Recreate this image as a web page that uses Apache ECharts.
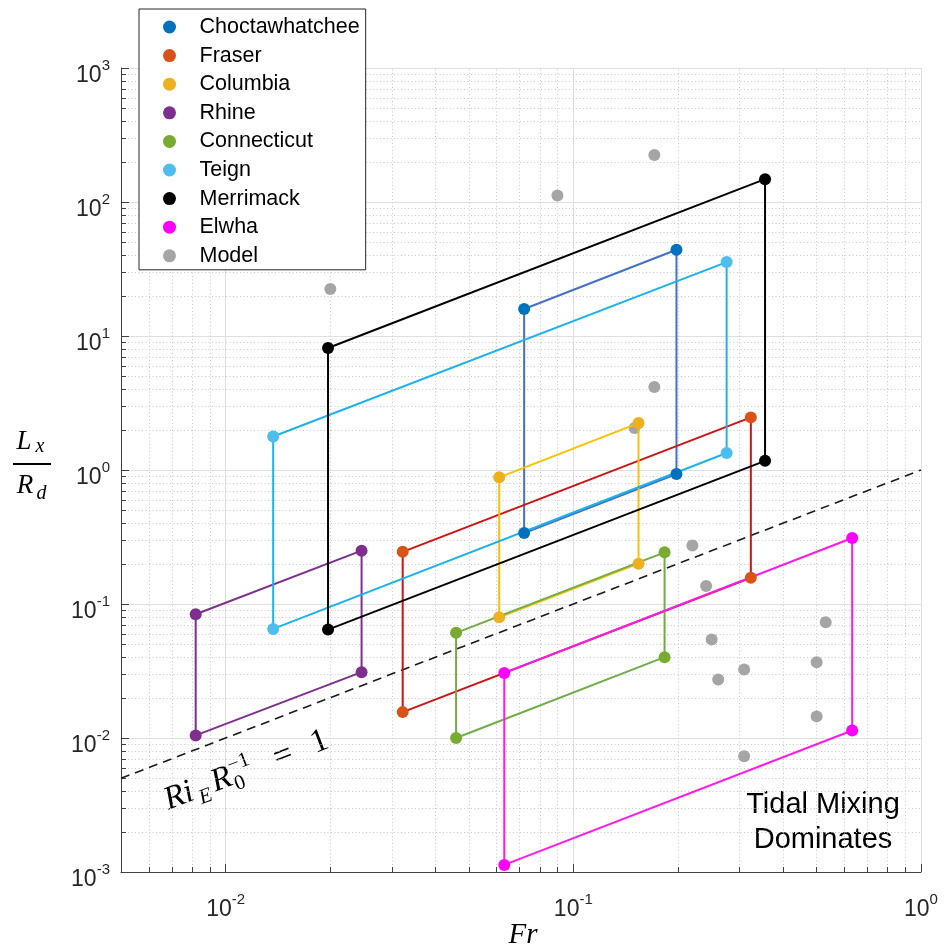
<!DOCTYPE html>
<html><head><meta charset="utf-8">
<script src="https://cdn.jsdelivr.net/npm/echarts@6/dist/echarts.min.js"></script>
<style>html,body{margin:0;padding:0;background:#fff}#c{width:946px;height:950px}</style>
</head><body><div id="c"></div>
<script>
// ---------------- data ----------------
const RIVERS = ['Choctawhatchee','Fraser','Columbia','Rhine','Connecticut','Teign','Merrimack','Elwha'];
const FR_LOW  = [0.0722, 0.0323, 0.0612, 0.0082, 0.0460, 0.0137, 0.0197, 0.0633];
const FR_HIGH = [0.198, 0.324, 0.154, 0.0246, 0.183, 0.276, 0.356, 0.634];
const LR_UPPER_AT_LOW  = [15.9, 0.245, 0.881, 0.0838, 0.0609, 1.78, 8.13, 0.0306];
const LR_UPPER_AT_HIGH = [44.0, 2.47, 2.24, 0.250, 0.243, 35.6, 148, 0.311];
const LR_LOWER_AT_HIGH = [0.933, 0.157, 0.200, 0.0310, 0.0401, 1.339, 1.17, 0.01137];
const LR_LOWER_AT_LOW  = [0.339, 0.0156, 0.0796, 0.01045, 0.0100, 0.0652, 0.0644, 0.00113];

const MODEL_NAME = 'Model';
const MODEL_FR = [0.171, 0.090, 0.0200, 0.171, 0.150, 0.220, 0.241, 0.532, 0.250, 0.501, 0.310, 0.261, 0.501, 0.310];
const MODEL_LR = [224, 112, 22.4, 4.16, 2.06, 0.273, 0.136, 0.0730, 0.0543, 0.0367, 0.0324, 0.0273, 0.0145, 0.00731];

const RI_LINE_FR = [0.005, 1];
const RI_LINE_LR = [0.005, 1];

const X_RANGE = [0.005, 1];
const Y_RANGE = [0.001, 1000];
const X_DECADES = [0.001, 0.01, 0.1];
const Y_DECADES = [0.001, 0.01, 0.1, 1, 10, 100];
const MINOR_MULT = [2, 3, 4, 5, 6, 7, 8, 9];

// ---------------- styles ----------------
const MARKER_COLORS = ['#0072BD','#D95319','#EDB120','#7E2F8E','#77AC30','#4DBEEE','#000000','#FF00FF'];
const LINE_COLORS   = ['#4470C8','#CC1414','#FFC000','#7E2F8E','#70AD47','#1CB2EC','#000000','#FF1AE6'];
const MODEL_COLOR = '#A5A5A5';
const AXIS_COLOR = '#404040';

function minorValues(decades, range) {
  const out = [];
  decades.forEach(d => MINOR_MULT.forEach(m => {
    const v = d * m;
    if (v > range[0] * 1.0001 && v < range[1] * 0.9999) out.push(v);
  }));
  return out;
}
const X_MINOR = minorValues(X_DECADES, X_RANGE);
const Y_MINOR = minorValues(Y_DECADES, Y_RANGE);

const chart = echarts.init(document.getElementById('c'), null, {renderer: 'canvas'});

function expLabel(v) {
  const e = Math.log10(v);
  const r = Math.round(e);
  if (Math.abs(e - r) > 1e-6) return '';
  return '{b|10}{s|' + r + '}';
}
const richX = {
  b: {fontFamily: 'Liberation Sans', fontSize: 23, lineHeight: 23, color: '#262626', verticalAlign: 'top', padding: [14, 0, 0, 0]},
  s: {fontFamily: 'Liberation Sans', fontSize: 15, lineHeight: 15, color: '#262626', verticalAlign: 'top', padding: [8, 0, 0, 0]}
};
const richY = {
  b: {fontFamily: 'Liberation Sans', fontSize: 23, lineHeight: 23, color: '#262626', verticalAlign: 'top', padding: [8, 0, 0, 0]},
  s: {fontFamily: 'Liberation Sans', fontSize: 15, lineHeight: 15, color: '#262626', verticalAlign: 'top', padding: [2, 0, 0, 0]}
};

const series = [];

// minor grid + minor ticks (x)
series.push({
  type: 'custom', silent: true, z: 1, clip: false,
  encode: {x: 0, y: 1},
  data: X_MINOR.map(v => [v, Y_RANGE[0]]),
  renderItem: function (params, api) {
    const v = api.value(0);
    const p0 = api.coord([v, Y_RANGE[0]]);
    const p1 = api.coord([v, Y_RANGE[1]]);
    const x = Math.round(p0[0]) + 0.5;
    return {type: 'group', children: [
      {type: 'line', shape: {x1: x, y1: p0[1], x2: x, y2: p1[1]}, style: {stroke: '#c8c8c8', lineWidth: 1, lineDash: [1, 2.5]}},
      {type: 'line', shape: {x1: x, y1: p0[1], x2: x, y2: p0[1] - 5}, style: {stroke: AXIS_COLOR, lineWidth: 1}}
    ]};
  }
});
// minor grid + minor ticks (y)
series.push({
  type: 'custom', silent: true, z: 1, clip: false,
  encode: {x: 0, y: 1},
  data: Y_MINOR.map(v => [X_RANGE[0], v]),
  renderItem: function (params, api) {
    const v = api.value(1);
    const p0 = api.coord([X_RANGE[0], v]);
    const p1 = api.coord([X_RANGE[1], v]);
    const y = Math.round(p0[1]) + 0.5;
    return {type: 'group', children: [
      {type: 'line', shape: {x1: p0[0], y1: y, x2: p1[0], y2: y}, style: {stroke: '#c8c8c8', lineWidth: 1, lineDash: [1, 2.5]}},
      {type: 'line', shape: {x1: p0[0], y1: y, x2: p0[0] + 5, y2: y}, style: {stroke: AXIS_COLOR, lineWidth: 1}}
    ]};
  }
});

// model points
series.push({
  name: MODEL_NAME, type: 'scatter', z: 2, symbol: 'circle', symbolSize: 12,
  itemStyle: {color: MODEL_COLOR, opacity: 1},
  data: MODEL_FR.map((x, i) => [x, MODEL_LR[i]])
});

// Ri_E R0^-1 = 1 line
series.push({
  name: 'RiLine', type: 'line', z: 2, symbol: 'none', silent: true,
  lineStyle: {color: '#1a1a1a', width: 1.6, type: [9, 6]},
  data: RI_LINE_FR.map((x, i) => [x, RI_LINE_LR[i]])
});

// rivers: outline + corner markers
RIVERS.forEach((name, i) => {
  const poly = [
    [FR_LOW[i], LR_UPPER_AT_LOW[i]],
    [FR_HIGH[i], LR_UPPER_AT_HIGH[i]],
    [FR_HIGH[i], LR_LOWER_AT_HIGH[i]],
    [FR_LOW[i], LR_LOWER_AT_LOW[i]],
    [FR_LOW[i], LR_UPPER_AT_LOW[i]]
  ];
  series.push({
    name: name + ' outline', type: 'line', z: 3, symbol: 'none', silent: true,
    lineStyle: {color: LINE_COLORS[i], width: 2},
    data: poly
  });
  series.push({
    name: name, type: 'scatter', z: 4, symbol: 'circle', symbolSize: 12,
    itemStyle: {color: MARKER_COLORS[i], opacity: 1},
    data: poly.slice(0, 4)
  });
});

const option = {
  animation: false,
  backgroundColor: '#fff',
  grid: {left: 121, right: 25, top: 68, bottom: 78, containLabel: false},
  xAxis: {
    type: 'log', logBase: 10, min: X_RANGE[0], max: X_RANGE[1],
    axisLine: {show: true, lineStyle: {color: AXIS_COLOR, width: 1}},
    axisTick: {show: true, inside: true, length: 8, lineStyle: {color: AXIS_COLOR}},
    splitLine: {show: true, lineStyle: {color: '#e0e0e0', width: 1}},
    axisLabel: {margin: 12, formatter: expLabel, rich: richX, showMinLabel: true, showMaxLabel: true},
    minorTick: {show: false}, minorSplitLine: {show: false}
  },
  yAxis: {
    type: 'log', logBase: 10, min: Y_RANGE[0], max: Y_RANGE[1],
    axisLine: {show: true, lineStyle: {color: AXIS_COLOR, width: 1}},
    axisTick: {show: true, inside: true, length: 8, lineStyle: {color: AXIS_COLOR}},
    splitLine: {show: true, lineStyle: {color: '#e0e0e0', width: 1}},
    axisLabel: {margin: 11, formatter: expLabel, rich: richY, showMinLabel: true, showMaxLabel: true},
    minorTick: {show: false}, minorSplitLine: {show: false}
  },
  legend: {
    orient: 'vertical', left: 139, top: 9,
    padding: [7, 6, 3, 24],
    itemWidth: 50, itemHeight: 13, itemGap: 6.6,
    borderColor: '#262626', borderWidth: 1, backgroundColor: '#fff',
    textStyle: {fontFamily: 'Liberation Sans', fontSize: 21.5, color: '#000', lineHeight: 21},
    icon: 'circle',
    selectedMode: false,
    data: RIVERS.concat([MODEL_NAME])
  },
  series: series
};
chart.setOption(option);

// annotations (placed after layout so the label follows the y = x line angle)
const pA = chart.convertToPixel({gridIndex: 0}, [0.01, 0.01]);
const pB = chart.convertToPixel({gridIndex: 0}, [1, 1]);
const ang = Math.atan2(pA[1] - pB[1], pB[0] - pA[0]);
const serif = 'Liberation Serif';
function t(x, y, text, fs, italic, align) {
  return {type: 'text', x: x, y: y, style: {text: text, fontSize: fs, fontFamily: serif, fontStyle: italic ? 'italic' : 'normal', fill: '#000', align: align || 'left', verticalAlign: 'middle'}};
}
chart.setOption({
  graphic: [
    {type: 'group', x: 169, y: 811, rotation: ang, children: [
      t(0, -10, 'Ri', 33, true),
      t(33, 0, 'E', 21, true),
      t(50, -10, 'R', 33, true),
      t(71, 0, '0', 21, false),
      t(71, -20, '\u22121', 21, false),
      t(117, -10, '=', 33, false),
      t(157, -10, '1', 33, false)
    ]},
    {type: 'text', x: 823, y: 822.7, style: {text: 'Tidal Mixing\nDominates', fontSize: 29, fontFamily: 'Liberation Sans', lineHeight: 35, align: 'center', verticalAlign: 'middle', fill: '#000'}},
    t(523, 935.5, 'Fr', 29, true, 'center'),
    t(24, 442, 'L', 27, true, 'center'),
    t(40, 447, 'x', 20, true, 'center'),
    {type: 'line', shape: {x1: 13, y1: 464, x2: 51, y2: 464}, style: {stroke: '#000', lineWidth: 2}},
    t(25, 486, 'R', 27, true, 'center'),
    t(41.5, 494, 'd', 20, true, 'center')
  ]
});
</script></body></html>
